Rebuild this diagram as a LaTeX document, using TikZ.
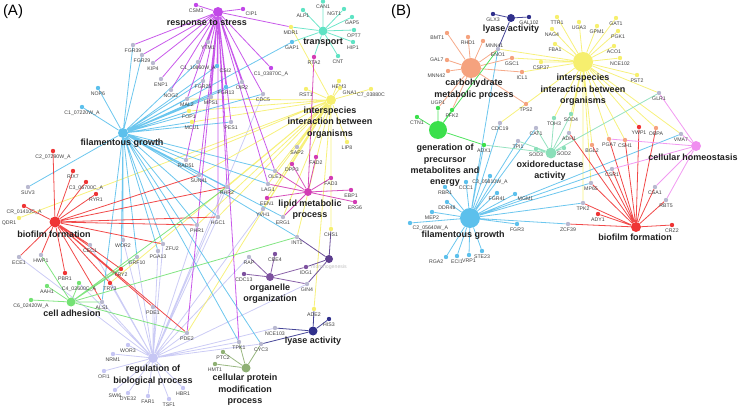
\documentclass[tikz,border=0pt]{standalone}
\usepackage{fontspec}
\setmainfont{Liberation Sans}
\usetikzlibrary{backgrounds}

\definecolor{stressc}{HTML}{C247E8}
\definecolor{transc}{HTML}{5FE3C4}
\definecolor{filac}{HTML}{5CC0EC}
\definecolor{interc}{HTML}{F6EF6E}
\definecolor{lipidc}{HTML}{D23CB4}
\definecolor{biofc}{HTML}{EF3535}
\definecolor{adhc}{HTML}{74E274}
\definecolor{orgc}{HTML}{7D519F}
\definecolor{morphc}{HTML}{5C3D8E}
\definecolor{lyasec}{HTML}{30308C}
\definecolor{protc}{HTML}{8FB074}
\definecolor{regc}{HTML}{C6C6F4}
\definecolor{carbc}{HTML}{F5A27E}
\definecolor{genc}{HTML}{3BE04C}
\definecolor{oxc}{HTML}{8ADFB9}
\definecolor{homc}{HTML}{F08EF0}
\definecolor{mixc}{HTML}{B9B9D0}

\tikzset{
  gene/.style={circle, fill=#1, inner sep=0pt, minimum size=4.4pt},
  hub/.style={circle, fill=#1, inner sep=0pt},
  glab/.style={font=\fontsize{5.2}{6}\selectfont, text=black!75, inner sep=0.4pt},
  hublab/.style={font=\fontsize{9}{11.4}\selectfont\bfseries, text=black!88, align=center, inner sep=0pt},
  link/.style={draw=#1, line width=0.8pt, opacity=0.9},
}

\begin{document}
\begin{tikzpicture}[x=1pt, y=-1pt, label distance=0.6pt]
    \useasboundingbox (0,0) rectangle (740,409);

    % panel A
    \node[font=\fontsize{15}{15}\selectfont] (pa) at (13,12) {(A)};

    % hubs
    \node[hub=stressc, minimum size=10pt] (stress) at (218,12) {};
    \node[hub=transc, minimum size=9pt] (trans) at (323,31) {};
    \node[hub=filac, minimum size=10pt] (fila) at (123,133) {};
    \node[hub=interc, minimum size=10pt] (inter) at (331,100) {};
    \node[hub=lipidc, minimum size=8pt] (lipid) at (308,192) {};
    \node[hub=biofc, minimum size=11pt] (biof) at (55,222) {};
    \node[hub=adhc, minimum size=9pt] (adh) at (71,302) {};
    \node[hub=orgc, minimum size=8pt] (org) at (270,277) {};
    \node[hub=morphc, minimum size=8pt] (morph) at (329,259) {};
    \node[hub=lyasec, minimum size=9pt] (lyase) at (313,331) {};
    \node[hub=protc, minimum size=9pt] (prot) at (246,368) {};
    \node[hub=regc, minimum size=10pt] (reg) at (153,358) {};

    \node[hublab] (stresslab) at (207,24) {response to stress};
    \node[hublab] (translab) at (323,42) {transport};
    \node[hublab] (filalab) at (122,143) {filamentous growth};
    \node[hublab] (interlab) at (330,122.5) {interspecies\\interaction between\\organisms};
    \node[hublab] (lipidlab) at (310,209.5) {lipid metabolic\\process};
    \node[hublab] (bioflab) at (54,234) {biofilm formation};
    \node[hublab] (adhlab) at (72,313) {cell adhesion};
    \node[hublab] (orglab) at (270,293.5) {organelle\\organization};
    \node[glab, text=black!25] (morphlab) at (329,267) {morphogenesis};
    \node[hublab] (lyaselab) at (313,341) {lyase activity};
    \node[hublab] (protlab) at (245,390) {cellular protein\\modification\\process};
    \node[hublab] (reglab) at (153,375) {regulation of\\biological process};

    % genes
    \node[gene=stressc, label={[glab]below:CSM3}] (csm3) at (196,5) {};
    \node[gene=stressc, label={[glab]below right:CIP1}] (cip1) at (243,9) {};
    \node[gene=mixc, label={[glab]below:FGR39}] (fgr39) at (133,45) {};
    \node[gene=mixc, label={[glab]below:FGR29}] (fgr29) at (142,55) {};
    \node[gene=mixc, label={[glab]below:KIP4}] (kip4) at (153,63) {};
    \node[gene=mixc, label={[glab]below:ENP1}] (enp1) at (161,79) {};
    \node[gene=mixc, label={[glab]below:NOG2}] (nog2) at (171,90) {};
    \node[gene=mixc, label={[glab]below:YTM1}] (ytm1) at (208,42) {};
    \node[gene=mixc, label={[glab]below:C1\_10860W\_A}] (c1a) at (198,62) {};
    \node[gene=filac, label={[glab]below right:CSI2}] (csi2) at (217,66) {};
    \node[gene=mixc, label={[glab]below:FGR25}] (fgr25) at (203,81) {};
    \node[gene=filac, label={[glab]below:FGR13}] (fgr13) at (226,87) {};
    \node[gene=mixc, label={[glab]below:OIR2}] (oir2) at (242,82) {};
    \node[gene=stressc, label={[glab]below:C1\_03870C\_A}] (c1b) at (271,68) {};
    \node[gene=mixc, label={[glab]below:MAL2}] (mal2) at (187,99) {};
    \node[gene=mixc, label={[glab]below:MPS1}] (mps1) at (211,97) {};
    \node[gene=mixc, label={[glab]below:CDC5}] (cdc5) at (263,94) {};
    \node[gene=interc, label={[glab]below:FOP1}] (fop1) at (189,111) {};
    \node[gene=interc, label={[glab]below:MCU1}] (mcu1) at (192,122) {};
    \node[gene=mixc, label={[glab]below:PES1}] (pes1) at (231,122) {};

    \node[gene=transc, label={[glab]below:CAN1}] (can1) at (323,1.5) {};
    \node[gene=transc, label={[glab]below:ALP1}] (alp1) at (303,10) {};
    \node[gene=transc, label={[glab]below left:NGT1}] (ngt1) at (344,9) {};
    \node[gene=transc, label={[glab]below:GAP5}] (gap5) at (352,17) {};
    \node[gene=transc, label={[glab]below:OPT7}] (opt7) at (354,30) {};
    \node[gene=transc, label={[glab]below:HIP1}] (hip1) at (353,42) {};
    \node[gene=transc, label={[glab]below:CNT}] (cnt) at (338,56) {};
    \node[gene=lipidc, label={[glab]below:RTA2}] (rta2) at (314,57) {};
    \node[gene=interc, label={[glab]below:MDR1}] (mdr1) at (291,27) {};
    \node[gene=filac, label={[glab]below:GAP1}] (gap1) at (292,42) {};

    \node[gene=interc, label={[glab]below:RST1}] (rst1) at (306,89) {};
    \node[gene=interc, label={[glab]below:HEM3}] (hem3) at (339,81) {};
    \node[gene=interc, label={[glab]below right:GNA1}] (gna1) at (340,88) {};
    \node[gene=interc, label={[glab]below:C7\_03880C}] (c7) at (371,89) {};
    \node[gene=interc, label={[glab]below:LIP8}] (lip8) at (347,142) {};
    \node[gene=mixc, label={[glab]below:SAP2}] (sap2) at (297,147) {};
    \node[gene=interc, label={[glab]below:CHS1}] (chs1) at (331,229) {};
    \node[gene=interc, label={[glab]below left:QDR1}] (qdr1) at (19,218) {};

    \node[gene=lipidc, label={[glab]below:FAD2}] (fad2) at (316,157) {};
    \node[gene=lipidc, label={[glab]below:DPP3}] (dpp3) at (292,164) {};
    \node[gene=mixc, label={[glab]below:OLE1}] (ole1) at (275,171) {};
    \node[gene=mixc, label={[glab]below:LAG1}] (lag1) at (268,184) {};
    \node[gene=lipidc, label={[glab]below:EEN1}] (een1) at (267,198) {};
    \node[gene=mixc, label={[glab]below:ERG1}] (erg1) at (283,217) {};
    \node[gene=lipidc, label={[glab]below:FAD3}] (fad3) at (331,178) {};
    \node[gene=lipidc, label={[glab]below:EBP1}] (ebp1) at (351,190) {};
    \node[gene=lipidc, label={[glab]below:ERG6}] (erg6) at (355,202) {};
    \node[gene=mixc, label={[glab]below:YVH1}] (yvh1) at (263,209) {};

    \node[gene=filac, label={[glab]below:NOP6}] (nop6) at (98,88) {};
    \node[gene=filac, label={[glab]below:C1\_07220W\_A}] (c1c) at (82,107) {};
    \node[gene=mixc, label={[glab]below:SUV3}] (suv3) at (28,187) {};
    \node[gene=mixc, label={[glab]below:RAD51}] (rad51) at (186,160) {};
    \node[gene=mixc, label={[glab]below:SUN41}] (sun41) at (199,175) {};
    \node[gene=mixc, label={[glab]below:RHR2}] (rhr2) at (227,187) {};
    \node[gene=mixc, label={[glab]below:HGC1}] (hgc1) at (218,217) {};
    \node[gene=mixc, label={[glab]below:PHR1}] (phr1) at (197,225) {};
    \node[gene=mixc, label={[glab]below right:ZFU2}] (zfu2) at (163,244) {};
    \node[gene=mixc, label={[glab]below:PGA13}] (pga13) at (158,251) {};
    \node[gene=mixc, label={[glab]below:GRF10}] (grf10) at (137,257) {};
    \node[gene=mixc, label={[glab]below:WOR2}] (wor2) at (123,240) {};
    \node[gene=mixc, label={[glab]below:INT1}] (int1) at (297,237) {};
    \node[gene=mixc, label={[glab]below:RAP}] (rap) at (249,257) {};
    \node[gene=mixc, label={[glab]below:TPK1}] (tpk1) at (239,342) {};
    \node[gene=mixc, label={[glab]below:CYC3}] (cyc3) at (261,344) {};

    \node[gene=biofc, label={[glab]below:C2\_07290W\_A}] (c2a) at (53,151) {};
    \node[gene=biofc, label={[glab]below:RIX7}] (rix7) at (73,171) {};
    \node[gene=biofc, label={[glab]below:C3\_06700C\_A}] (c3a) at (86,182) {};
    \node[gene=biofc, label={[glab]below:RYR1}] (ryr1) at (96,194) {};
    \node[gene=biofc, label={[glab]below:CR\_01410C\_A}] (cr) at (24,206) {};
    \node[gene=mixc, label={[glab]below:ECE1}] (ece1) at (19,257) {};
    \node[gene=mixc, label={[glab]below:HWP1}] (hwp1) at (41,255) {};
    \node[gene=mixc, label={[glab]below:CEC1}] (cec1) at (90,245) {};
    \node[gene=biofc, label={[glab]below:PBR1}] (pbr1) at (65,273) {};
    \node[gene=biofc, label={[glab]below:TRY2}] (try2) at (121,269) {};
    \node[gene=biofc, label={[glab]below:TRY3}] (try3) at (110,283) {};
    \node[gene=mixc, label={[glab]below:PDE1}] (pde1) at (153,307) {};
    \node[gene=mixc, label={[glab]below:PDE2}] (pde2) at (187,333) {};

    \node[gene=adhc, label={[glab]below:C6\_02420W\_A}] (c6) at (31,300) {};
    \node[gene=adhc, label={[glab]below:AAH1}] (aah1) at (47,286) {};
    \node[gene=adhc, label={[glab]below:C4\_02600C\_A}] (c4) at (79,283) {};
    \node[gene=mixc, label={[glab]below:ALS1}] (als1) at (102,302) {};

    \node[gene=regc, label={[glab]below:WOR3}] (wor3) at (128,345) {};
    \node[gene=regc, label={[glab]below:NRM1}] (nrm1) at (113,354) {};
    \node[gene=regc, label={[glab]below:OFI1}] (ofi1) at (104,371) {};
    \node[gene=regc, label={[glab]below:SWI6}] (swi6) at (115,390) {};
    \node[gene=regc, label={[glab]below:DYE32}] (dye32) at (128,393) {};
    \node[gene=regc, label={[glab]below:FAR1}] (far1) at (148,396) {};
    \node[gene=regc, label={[glab]below:TSF1}] (tsf1) at (169,399) {};
    \node[gene=regc, label={[glab]below:HBR1}] (hbr1) at (183,388) {};

    \node[gene=orgc, label={[glab]below:CBE4}] (cbe4) at (275,254) {};
    \node[gene=orgc, label={[glab]below:CDC13}] (cdc13) at (244,274) {};
    \node[gene=orgc, label={[glab]below:IDG1}] (idg1) at (306,267) {};
    \node[gene=mixc, label={[glab]below:GIN4}] (gin4) at (307,284) {};

    \node[gene=interc, label={[glab]below:ADE2}] (ade2) at (314,309) {};
    \node[gene=lyasec, label={[glab]below:HIS3}] (his3) at (329,319) {};
    \node[gene=mixc, label={[glab]below:NCE103}] (nce103) at (275,328) {};

    \node[gene=protc, label={[glab]below:PTC2}] (ptc2) at (223,352) {};
    \node[gene=protc, label={[glab]below:HMT1}] (hmt1) at (215,364) {};

    % panel B
    \node[font=\fontsize{15}{15}\selectfont] (pb) at (401,12) {(B)};

    \node[hub=lyasec, minimum size=8pt] (lyaseb) at (511,18) {};
    \node[hub=carbc, minimum size=20pt] (carb) at (471,68) {};
    \node[hub=interc, minimum size=20pt] (interb) at (583,62) {};
    \node[hub=genc, minimum size=18pt] (gen) at (438,130) {};
    \node[hub=oxc, minimum size=11pt] (ox) at (551,153) {};
    \node[hub=homc, minimum size=10pt] (hom) at (696,146) {};
    \node[hub=filac, minimum size=20pt] (filab) at (470,218) {};
    \node[hub=biofc, minimum size=10pt] (biofb) at (636,227) {};

    \node[hublab] (lyaseblab) at (511,29) {lyase activity};
    \node[hublab] (carblab) at (474,89) {carbohydrate\\metabolic process};
    \node[hublab] (interblab) at (583,90) {interspecies\\interaction between\\organisms};
    \node[hublab] (genlab) at (445,165.5) {generation of\\precursor\\metabolites and\\energy};
    \node[hublab] (oxlab) at (550,170.5) {oxidoreductase\\activity};
    \node[hublab] (homlab) at (693,157) {cellular homeostasis};
    \node[hublab] (filablab) at (463,235) {filamentous growth};
    \node[hublab] (biofblab) at (635,237) {biofilm formation};

    \node[gene=lyasec, label={[glab]below:GLX3}] (glx3) at (493,14) {};
    \node[gene=lyasec, label={[glab]below:GAL102}] (gal102) at (529,17) {};
    \node[gene=mixc, label={[glab]below:ENO1}] (eno1) at (498,49) {};
    \node[gene=carbc, label={[glab]below left:BMT1}] (bmt1) at (447,33) {};
    \node[gene=carbc, label={[glab]below:RHD1}] (rhd1) at (468,37) {};
    \node[gene=carbc, label={[glab]below right:MNN41}] (mnn41) at (483,41) {};
    \node[gene=carbc, label={[glab]left:GAL7}] (gal7) at (447,60) {};
    \node[gene=carbc, label={[glab]below left:MNN42}] (mnn42) at (448,71) {};
    \node[gene=carbc, label={[glab]below:GSC1}] (gsc1) at (512,58) {};
    \node[gene=carbc, label={[glab]below:ICL1}] (icl1) at (522,72) {};
    \node[gene=carbc, label={[glab]below:TPS2}] (tps2) at (526,104) {};
    \node[gene=interc, label={[glab]below:CSP37}] (csp37) at (541,62) {};
    \node[gene=interc, label={[glab]below:TTR1}] (ttr1) at (557,17) {};
    \node[gene=interc, label={[glab]below:NAG4}] (nag4) at (552,29) {};
    \node[gene=interc, label={[glab]below:FBA1}] (fba1) at (555,44) {};
    \node[gene=interc, label={[glab]below:UGA3}] (uga3) at (579,22) {};
    \node[gene=interc, label={[glab]below:GPM1}] (gpm1) at (597,26) {};
    \node[gene=interc, label={[glab]below:GAT1}] (gat1) at (616,18) {};
    \node[gene=interc, label={[glab]below:PGK1}] (pgk1) at (618,31) {};
    \node[gene=interc, label={[glab]below:ACO1}] (aco1) at (614,46) {};
    \node[gene=interc, label={[glab]below:NCE102}] (nce102) at (620,58) {};
    \node[gene=interc, label={[glab]below:PST2}] (pst2) at (637,75) {};
    \node[gene=mixc, label={[glab]below:GLR1}] (glr1) at (659,93) {};
    \node[gene=genc, label={[glab]below:CTN1}] (ctn1) at (417,117) {};
    \node[gene=genc, label={[glab]above:UGP1}] (ugp1) at (438,108) {};
    \node[gene=genc, label={[glab]below:PFK2}] (pfk2) at (452,110) {};
    \node[gene=mixc, label={[glab]below:CDC19}] (cdc19) at (500,123) {};
    \node[gene=oxc, label={[glab]below:TOH3}] (toh3) at (554,118) {};
    \node[gene=oxc, label={[glab]below:SOD4}] (sod4) at (571,114) {};
    \node[gene=mixc, label={[glab]below:CAT1}] (cat1) at (536,128) {};
    \node[gene=mixc, label={[glab]below:ADH1}] (adh1) at (569,133) {};
    \node[gene=mixc, label={[glab]below:TPI1}] (tpi1) at (518,141) {};
    \node[gene=genc, label={[glab]below:ADX1}] (adx1) at (484,145) {};
    \node[gene=oxc, label={[glab]below:SOD3}] (sod3) at (536,149) {};
    \node[gene=oxc, label={[glab]below:SOD2}] (sod2) at (564,148) {};
    \node[gene=carbc, label={[glab]below:BGL2}] (bgl2) at (592,145) {};
    \node[gene=carbc, label={[glab]below:PGA7}] (pga7) at (609,139) {};
    \node[gene=carbc, label={[glab]below:CSH1}] (csh1) at (625,140) {};
    \node[gene=biofc, label={[glab]below:YWP1}] (ywp1) at (639,127) {};
    \node[gene=carbc, label={[glab]below:OBPA}] (obpa) at (656,128) {};
    \node[gene=mixc, label={[glab]below:VMA7}] (vma7) at (681,134) {};
    \node[gene=mixc, label={[glab]below:CSR1}] (csr1) at (612,169) {};
    \node[gene=mixc, label={[glab]below:MP65}] (mp65) at (591,183) {};
    \node[gene=mixc, label={[glab]below:TPK2}] (tpk2) at (583,203) {};
    \node[gene=biofc, label={[glab]below:ADY1}] (ady1) at (598,214) {};
    \node[gene=mixc, label={[glab]below:ZCF39}] (zcf39) at (568,224) {};
    \node[gene=mixc, label={[glab]below:CSA1}] (csa1) at (655,187) {};
    \node[gene=mixc, label={[glab]below:RBT5}] (rbt5) at (666,200) {};
    \node[gene=biofc, label={[glab]below:CRZ2}] (crz2) at (672,225) {};
    \node[gene=filac, label={[glab]below:FGR3}] (fgr3) at (517,224) {};
    \node[gene=filac, label={[glab]below:FGR41}] (fgr41) at (497,193) {};
    \node[gene=filac, label={[glab]below right:MGM1}] (mgm1) at (515,194) {};
    \node[gene=filac, label={[glab]below:C3\_05810W\_A}] (c3b) at (490,176) {};
    \node[gene=filac, label={[glab]below:CCC1}] (ccc1) at (466,182) {};
    \node[gene=filac, label={[glab]below:RBR1}] (rbr1) at (445,187) {};
    \node[gene=filac, label={[glab]below:DDR48}] (ddr48) at (447,202) {};
    \node[gene=filac, label={[glab]below:MEP2}] (mep2) at (432,212) {};
    \node[gene=filac, label={[glab]below right:C2\_05640W\_A}] (c2b) at (410,223) {};
    \node[gene=filac, label={[glab]below left:RGA2}] (rga2) at (446,257) {};
    \node[gene=filac, label={[glab]below:ECI1}] (eci1) at (457,256) {};
    \node[gene=filac, label={[glab]below:VRP1}] (vrp1) at (469,255) {};
    \node[gene=filac, label={[glab]below:STE23}] (ste23) at (482,251) {};

    % connectors
    \begin{scope}[on background layer]
      \draw[link=regc] (reg) -- (wor3) (reg) -- (nrm1) (reg) -- (ofi1) (reg) -- (swi6)
        (reg) -- (dye32) (reg) -- (far1) (reg) -- (tsf1) (reg) -- (hbr1) (reg) -- (als1)
        (reg) -- (pde1) (reg) -- (pde2) (reg) -- (try3) (reg) -- (cec1) (reg) -- (wor2)
        (reg) -- (grf10) (reg) -- (pga13) (reg) -- (zfu2) (reg) -- (phr1) (reg) -- (hgc1)
        (reg) -- (cdc5) (reg) -- (yvh1) (reg) -- (gin4) (reg) -- (rap) (reg) -- (cyc3)
        (reg) -- (nce103) (reg) -- (ece1) (reg) -- (tpk1) (reg) -- (c4) (reg) -- (rhr2);
      \draw[link=interc] (inter) -- (mdr1) (inter) -- (rst1) (inter) -- (hem3) (inter) -- (gna1)
        (inter) -- (c7) (inter) -- (lip8) (inter) -- (sap2) (inter) -- (dpp3) (inter) -- (ole1)
        (inter) -- (lag1) (inter) -- (een1) (inter) -- (yvh1) (inter) -- (chs1) (inter) -- (ade2)
        (inter) -- (fop1) (inter) -- (mcu1) (inter) -- (mal2) (inter) -- (rad51) (inter) -- (rhr2)
        (inter) -- (hgc1) (inter) -- (phr1) (inter) -- (qdr1) (inter) -- (pde2) (inter) -- (try3)
        (inter) -- (erg1) (inter) -- (int1) (inter) -- (sun41);
      \draw[link=filac] (fila) -- (nop6) (fila) -- (c1c) (fila) -- (fgr39) (fila) -- (fgr29)
        (fila) -- (suv3) (fila) -- (c1a) (fila) -- (csi2) (fila) -- (fgr25) (fila) -- (fgr13)
        (fila) -- (oir2) (fila) -- (gap1) (fila) -- (mal2) (fila) -- (mps1) (fila) -- (fop1)
        (fila) -- (mcu1) (fila) -- (pes1) (fila) -- (cdc5) (fila) -- (rad51) (fila) -- (sun41)
        (fila) -- (rhr2) (fila) -- (ole1) (fila) -- (lag1) (fila) -- (hgc1) (fila) -- (phr1)
        (fila) -- (wor2) (fila) -- (grf10) (fila) -- (pga13) (fila) -- (zfu2) (fila) -- (int1)
        (fila) -- (tpk1) (fila) -- (cyc3) (fila) -- (try2) (fila) -- (als1) (fila) -- (erg1);
      \draw[link=stressc] (stress) -- (csm3) (stress) -- (cip1) (stress) -- (fgr39) (stress) -- (fgr29)
        (stress) -- (kip4) (stress) -- (enp1) (stress) -- (nog2) (stress) -- (ytm1) (stress) -- (c1a)
        (stress) -- (csi2) (stress) -- (fgr25) (stress) -- (fgr13) (stress) -- (oir2) (stress) -- (c1b)
        (stress) -- (mal2) (stress) -- (mps1) (stress) -- (cdc5) (stress) -- (pes1) (stress) -- (mdr1)
        (stress) -- (rad51) (stress) -- (sun41) (stress) -- (rhr2) (stress) -- (hgc1) (stress) -- (lag1)
        (stress) -- (ole1) (stress) -- (pde2) (stress) -- (tpk1);
      \draw[link=transc] (trans) -- (can1) (trans) -- (alp1) (trans) -- (ngt1) (trans) -- (gap5)
        (trans) -- (opt7) (trans) -- (hip1) (trans) -- (cnt) (trans) -- (rta2) (trans) -- (mdr1)
        (trans) -- (gap1);
      \draw[link=lipidc] (lipid) -- (rta2) (lipid) -- (fad2) (lipid) -- (dpp3) (lipid) -- (ole1)
        (lipid) -- (lag1) (lipid) -- (een1) (lipid) -- (erg1) (lipid) -- (fad3) (lipid) -- (ebp1)
        (lipid) -- (erg6);
      \draw[link=biofc] (biof) -- (c2a) (biof) -- (rix7) (biof) -- (c3a) (biof) -- (ryr1)
        (biof) -- (cr) (biof) -- (ece1) (biof) -- (hwp1) (biof) -- (cec1) (biof) -- (pbr1)
        (biof) -- (try2) (biof) -- (try3) (biof) -- (als1) (biof) -- (pde1) (biof) -- (pde2)
        (biof) -- (zfu2) (biof) -- (phr1) (biof) -- (hgc1) (biof) -- (rhr2) (biof) -- (sun41);
      \draw[link=adhc] (adh) -- (c6) (adh) -- (aah1) (adh) -- (c4) (adh) -- (hwp1) (adh) -- (als1)
        (adh) -- (try2) (adh) -- (pde2) (adh) -- (int1) (adh) -- (rhr2) (adh) -- (grf10);
      \draw[link=orgc] (org) -- (rap) (org) -- (cbe4) (org) -- (cdc13) (org) -- (idg1) (org) -- (gin4);
      \draw[link=morphc] (morph) -- (chs1) (morph) -- (int1) (morph) -- (idg1) (morph) -- (gin4);
      \draw[link=lyasec] (lyase) -- (ade2) (lyase) -- (his3) (lyase) -- (nce103) (lyase) -- (cyc3);
      \draw[link=protc] (prot) -- (tpk1) (prot) -- (cyc3) (prot) -- (ptc2) (prot) -- (hmt1);

      \draw[link=interc] (interb) -- (csp37) (interb) -- (ttr1) (interb) -- (nag4) (interb) -- (fba1)
        (interb) -- (uga3) (interb) -- (gpm1) (interb) -- (gat1) (interb) -- (pgk1) (interb) -- (aco1)
        (interb) -- (nce102) (interb) -- (pst2) (interb) -- (glr1) (interb) -- (eno1) (interb) -- (gsc1)
        (interb) -- (icl1) (interb) -- (tps2) (interb) -- (cdc19) (interb) -- (toh3) (interb) -- (sod4)
        (interb) -- (adh1) (interb) -- (bgl2) (interb) -- (pga7) (interb) -- (csh1) (interb) -- (ywp1)
        (interb) -- (obpa) (interb) -- (vma7) (interb) -- (mp65) (interb) -- (tpk2);
      \draw[link=filac] (filab) -- (eno1) (filab) -- (cdc19) (filab) -- (cat1) (filab) -- (tpi1)
        (filab) -- (adx1) (filab) -- (c3b) (filab) -- (ccc1) (filab) -- (rbr1) (filab) -- (ddr48)
        (filab) -- (mep2) (filab) -- (c2b) (filab) -- (rga2) (filab) -- (eci1) (filab) -- (vrp1)
        (filab) -- (ste23) (filab) -- (fgr3) (filab) -- (fgr41) (filab) -- (mgm1) (filab) -- (zcf39)
        (filab) -- (tpk2) (filab) -- (mp65) (filab) -- (csr1) (filab) -- (vma7);
      \draw[link=biofc] (biofb) -- (adh1) (biofb) -- (bgl2) (biofb) -- (pga7) (biofb) -- (csh1)
        (biofb) -- (ywp1) (biofb) -- (obpa) (biofb) -- (csr1) (biofb) -- (mp65) (biofb) -- (tpk2)
        (biofb) -- (ady1) (biofb) -- (zcf39) (biofb) -- (csa1) (biofb) -- (rbt5) (biofb) -- (crz2);
      \draw[link=carbc] (carb) -- (bmt1) (carb) -- (rhd1) (carb) -- (mnn41) (carb) -- (gal7)
        (carb) -- (mnn42) (carb) -- (eno1) (carb) -- (gsc1) (carb) -- (icl1) (carb) -- (tps2)
        (carb) -- (pfk2) (carb) -- (ugp1);
      \draw[link=genc] (gen) -- (ctn1) (gen) -- (ugp1) (gen) -- (pfk2) (gen) -- (eno1) (gen) -- (adx1);
      \draw[link=oxc] (ox) -- (toh3) (ox) -- (sod4) (ox) -- (cat1) (ox) -- (adh1) (ox) -- (sod3)
        (ox) -- (sod2) (ox) -- (glr1) (ox) -- (adx1) (ox) -- (tpi1);
      \draw[link=homc] (hom) -- (glr1) (hom) -- (vma7) (hom) -- (pga7) (hom) -- (csr1)
        (hom) -- (csa1) (hom) -- (rbt5);
      \draw[link=lyasec] (lyaseb) -- (glx3) (lyaseb) -- (gal102) (lyaseb) -- (eno1);
    \end{scope}
\end{tikzpicture}
\end{document}
